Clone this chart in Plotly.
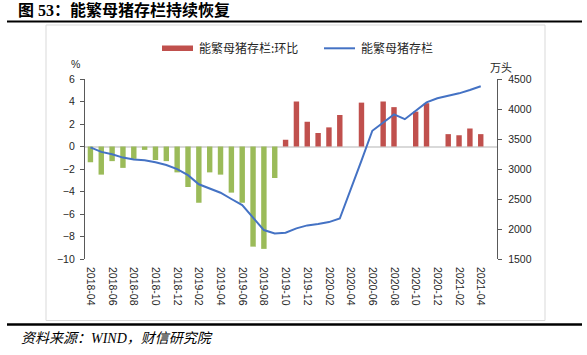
import plotly.graph_objects as go

months = [
    "2018-04", "2018-05", "2018-06", "2018-07", "2018-08", "2018-09", "2018-10", "2018-11", "2018-12",
    "2019-01", "2019-02", "2019-03", "2019-04", "2019-05", "2019-06", "2019-07", "2019-08", "2019-09",
    "2019-10", "2019-11", "2019-12", "2020-01", "2020-02", "2020-03", "2020-04", "2020-05", "2020-06",
    "2020-07", "2020-08", "2020-09", "2020-10", "2020-11", "2020-12", "2021-01", "2021-02", "2021-03",
    "2021-04",
]
mom_pct = [
    -1.4, -2.5, -1.3, -1.9, -1.1, -0.3, -1.2, -1.3, -2.3,
    -3.6, -5.0, -2.3, -2.5, -4.1, -5.0, -8.9, -9.1, -2.8,
    0.6, 4.0, 2.2, 1.2, 1.7, 2.8, None, 3.9, None,
    4.0, 3.5, None, 3.1, 3.85, None, 1.1, 1.0, 1.6,
    1.1,
]
stock_10k = [
    3360, 3285, 3245, 3190, 3158, 3145, 3112, 3067, 2997,
    2897, 2745, 2676, 2605, 2500, 2398, 2190, 1982, 1927,
    1937, 2010, 2060, 2085, 2115, 2175, 2650, 3140, 3637,
    3775, 3910, 3830, 3965, 4110, 4180, 4222, 4261, 4316,
    4378,
]
tick_labels = months[::2]

name_bar = "能繁母猪存栏:环比"
name_line = "能繁母猪存栏"
title_text = "<b>图 53：能繁母猪存栏持续恢复</b>"
source_text = "<i>资料来源：WIND，财信研究院</i>"

RED = "#C0504D"
GREEN = "#9BBB59"
BLUE = "#4472C4"

bar_colors = [RED if (v is not None and v >= 0) else GREEN for v in mom_pct]

W, H = 587, 355
L, R, T, B = 85, 497, 79, 259


def px(x):
    return (x - L) / (R - L)


def py(y):
    return (B - y) / (B - T)


fig = go.Figure()
fig.add_trace(go.Bar(
    x=months, y=mom_pct, name=name_bar, marker_color=bar_colors,
    marker_line_width=0, width=0.5, yaxis="y", showlegend=False,
))
fig.add_trace(go.Scatter(
    x=months, y=stock_10k, name=name_line, mode="lines",
    line=dict(color=BLUE, width=2), yaxis="y2", showlegend=False,
))

axis_font = dict(family="Liberation Sans, Arial, sans-serif", size=10.5, color="#262626")
cjk = "Noto Sans CJK SC, sans-serif"

fig.update_layout(
    width=W, height=H,
    margin=dict(l=L, r=W - R, t=T, b=H - B, pad=0),
    paper_bgcolor="white", plot_bgcolor="white",
    bargap=0.5,
    xaxis=dict(
        type="category", range=[-0.5, 37.5], tickmode="array",
        tickvals=tick_labels, ticktext=tick_labels, tickangle=90,
        showgrid=False, showline=False, zeroline=False, ticks="",
        tickfont=axis_font, ticklabelstandoff=7,
    ),
    yaxis=dict(
        range=[-10, 6], dtick=2, showgrid=False, zeroline=True,
        zerolinecolor="#d9d9d9", zerolinewidth=1.5,
        showline=True, linecolor="#595959", linewidth=1.2,
        ticks="outside", ticklen=4, tickcolor="#595959",
        tickfont=axis_font, ticklabelstandoff=3,
    ),
    yaxis2=dict(
        range=[1500, 4500], dtick=500, overlaying="y", side="right",
        showgrid=False, zeroline=False,
        showline=True, linecolor="#595959", linewidth=1.2,
        ticks="outside", ticklen=4, tickcolor="#595959",
        tickfont=axis_font, ticklabelstandoff=4,
    ),
    showlegend=False,
    shapes=[
        dict(type="line", xref="paper", yref="paper", x0=px(7), x1=px(582), y0=py(21.5), y1=py(21.5),
             line=dict(color="black", width=2)),
        dict(type="line", xref="paper", yref="paper", x0=px(7), x1=px(582), y0=py(324.5), y1=py(324.5),
             line=dict(color="black", width=2.5)),
        dict(type="rect", xref="paper", yref="paper", x0=px(46), x1=px(545), y0=py(25), y1=py(320.5),
             line=dict(color="#d9d9d9", width=1), layer="below"),
        dict(type="rect", xref="paper", yref="paper", x0=px(162), x1=px(193), y0=py(45.5), y1=py(51),
             fillcolor=RED, line=dict(width=0)),
        dict(type="line", xref="paper", yref="paper", x0=px(324), x1=px(355), y0=py(48.3), y1=py(48.3),
             line=dict(color=BLUE, width=2)),
    ],
    annotations=[
        dict(text=title_text, xref="paper", yref="paper", x=px(16), y=py(9.5), xanchor="left", yanchor="middle",
             showarrow=False, font=dict(family="Liberation Serif, " + cjk, size=16, color="black")),
        dict(text=name_bar, xref="paper", yref="paper", x=px(197), y=py(48), xanchor="left", yanchor="middle",
             showarrow=False, font=dict(family=cjk, size=12, color="#262626")),
        dict(text=name_line, xref="paper", yref="paper", x=px(359), y=py(48), xanchor="left", yanchor="middle",
             showarrow=False, font=dict(family=cjk, size=12, color="#262626")),
        dict(text="%", xref="paper", yref="paper", x=px(75), y=py(64), xanchor="center", yanchor="middle",
             showarrow=False, font=dict(family="Liberation Sans, sans-serif", size=10.5, color="#262626")),
        dict(text="万头", xref="paper", yref="paper", x=px(501), y=py(66.5), xanchor="center", yanchor="middle",
             showarrow=False, font=dict(family=cjk, size=11, color="#262626")),
        dict(text=source_text, xref="paper", yref="paper", x=px(19), y=py(338.5), xanchor="left", yanchor="middle",
             showarrow=False, font=dict(family="Liberation Serif, " + cjk, size=14, color="black")),
    ],
)

fig.write_html(
    "out.html",
    config={"displayModeBar": False},
    post_script="document.body.style.margin='0';document.body.style.overflow='hidden';",
)
